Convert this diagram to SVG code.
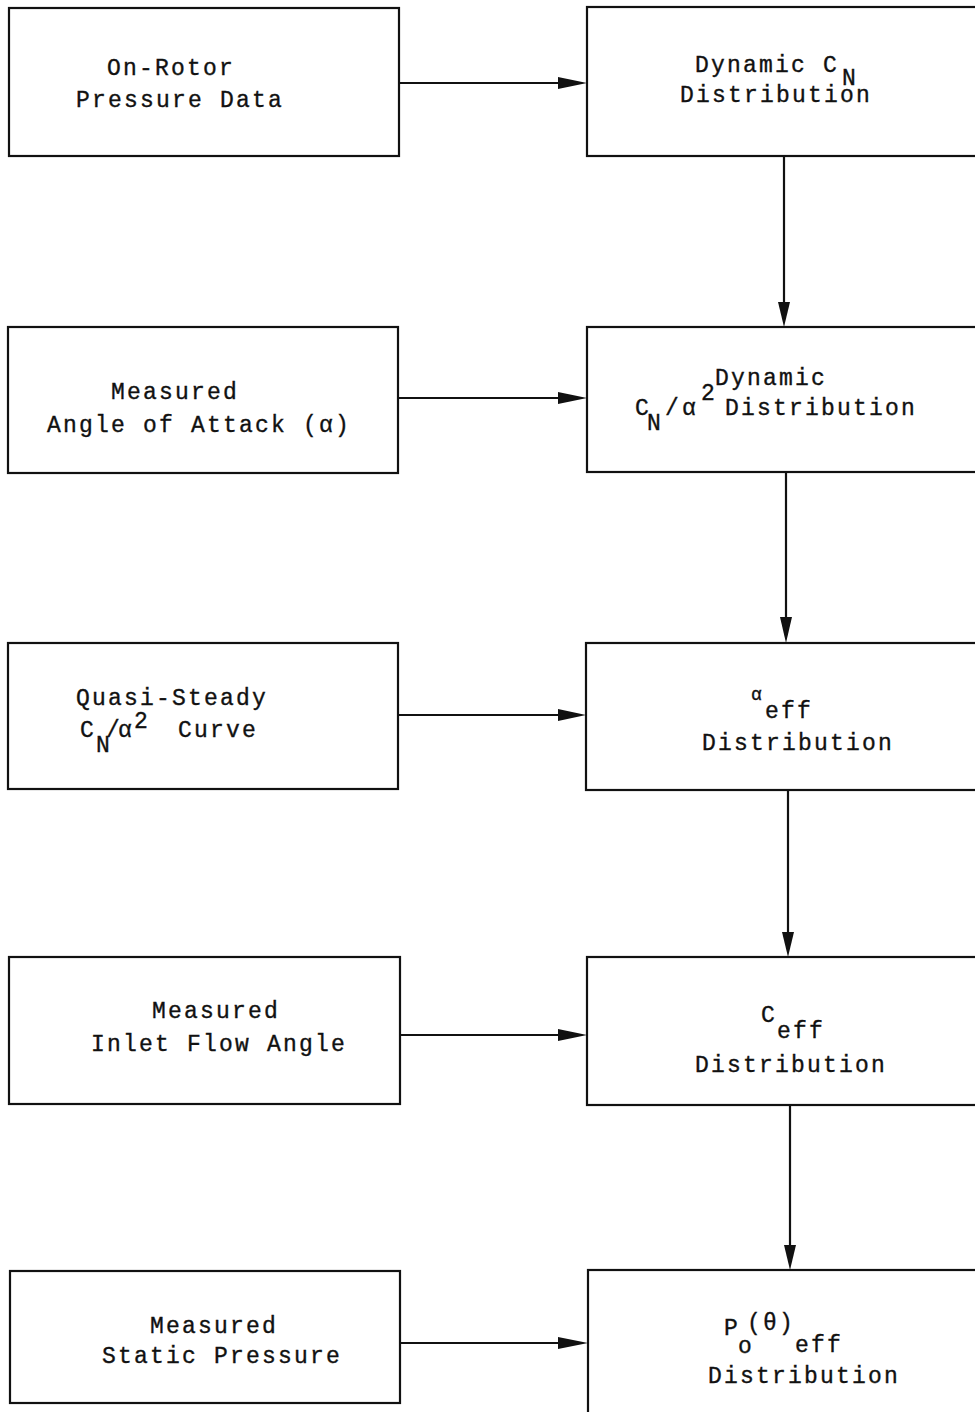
<svg xmlns="http://www.w3.org/2000/svg" width="975" height="1412" viewBox="0 0 975 1412">
<style>
.box{fill:none;stroke:#111;stroke-width:2.2}
.t{font-family:"Liberation Mono","DejaVu Sans Mono",monospace;font-size:23px;letter-spacing:2.2px;fill:#111;stroke:#111;stroke-width:0.35}
.c{stroke:#111;stroke-width:2.2;fill:none}
.ah{fill:#111}
</style>
<rect width="975" height="1412" fill="#fff"/>
<g id="n1"><rect class="box" x="9" y="8" width="390" height="148"/>
<text class="t" x="107" y="75">On-Rotor</text><text class="t" x="76" y="107">Pressure Data</text></g>
<g id="n2"><rect class="box" x="8" y="327" width="390" height="146"/>
<text class="t" x="111" y="399">Measured</text><text class="t" x="47" y="432">Angle of Attack (α)</text></g>
<g id="n3"><rect class="box" x="8" y="643" width="390" height="146"/>
<text class="t" x="76" y="705">Quasi-Steady</text>
<text class="t"><tspan x="80" y="737">C</tspan><tspan x="96" y="752">N</tspan><tspan x="106" y="737">/</tspan><tspan x="118" y="737">α</tspan><tspan x="134" y="728">2</tspan><tspan x="178" y="737">Curve</tspan></text></g>
<g id="n4"><rect class="box" x="9" y="957" width="391" height="147"/>
<text class="t" x="152" y="1018">Measured</text><text class="t" x="91" y="1051">Inlet Flow Angle</text></g>
<g id="n5"><rect class="box" x="10" y="1271" width="390" height="132"/>
<text class="t" x="150" y="1333">Measured</text><text class="t" x="102" y="1363">Static Pressure</text></g>
<g id="r1"><rect class="box" x="587" y="7" width="400" height="149"/>
<text class="t"><tspan x="695" y="72">Dynamic C</tspan><tspan x="842" y="85">N</tspan></text><text class="t" x="680" y="102">Distribution</text></g>
<g id="r2"><rect class="box" x="587" y="327" width="400" height="145"/>
<text class="t" x="715" y="385">Dynamic</text>
<text class="t"><tspan x="635" y="415">C</tspan><tspan x="647" y="430">N</tspan><tspan x="665" y="415">/</tspan><tspan x="682" y="415">α</tspan><tspan x="701" y="400">2</tspan><tspan x="725" y="415">Distribution</tspan></text></g>
<g id="r3"><rect class="box" x="586" y="643" width="400" height="147"/>
<text class="t"><tspan x="751" y="700" style="font-size:18px">α</tspan><tspan x="765" y="718">eff</tspan></text><text class="t" x="702" y="750">Distribution</text></g>
<g id="r4"><rect class="box" x="587" y="957" width="400" height="148"/>
<text class="t"><tspan x="761" y="1022">C</tspan><tspan x="777" y="1038">eff</tspan></text><text class="t" x="695" y="1072">Distribution</text></g>
<g id="r5"><rect class="box" x="588" y="1270" width="400" height="160"/>
<text class="t"><tspan x="724" y="1335">P</tspan><tspan x="738" y="1353">o</tspan><tspan x="747" y="1330">(θ)</tspan><tspan x="795" y="1352">eff</tspan></text><text class="t" x="708" y="1383">Distribution</text></g>
<g id="connectors">
<line class="c" x1="400" y1="83" x2="560" y2="83"/><polygon class="ah" points="558,77 587,83 558,89"/>
<line class="c" x1="399" y1="398" x2="560" y2="398"/><polygon class="ah" points="558,392 587,398 558,404"/>
<line class="c" x1="399" y1="715" x2="560" y2="715"/><polygon class="ah" points="558,709 586,715 558,721"/>
<line class="c" x1="400" y1="1035" x2="560" y2="1035"/><polygon class="ah" points="558,1029 587,1035 558,1041"/>
<line class="c" x1="400" y1="1343" x2="560" y2="1343"/><polygon class="ah" points="558,1337 588,1343 558,1349"/>
<line class="c" x1="784" y1="156" x2="784" y2="305"/><polygon class="ah" points="778,302 784,327 790,302"/>
<line class="c" x1="786" y1="472" x2="786" y2="620"/><polygon class="ah" points="780,617 786,643 792,617"/>
<line class="c" x1="788" y1="790" x2="788" y2="935"/><polygon class="ah" points="782,932 788,957 794,932"/>
<line class="c" x1="790" y1="1105" x2="790" y2="1248"/><polygon class="ah" points="784,1245 790,1270 796,1245"/>
</g>
</svg>
